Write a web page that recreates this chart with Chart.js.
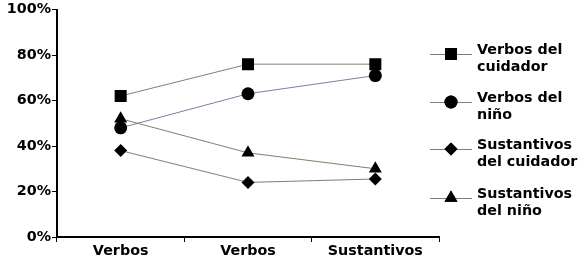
<!DOCTYPE html>
<html>
<head>
<meta charset="utf-8">
<script src="https://cdn.jsdelivr.net/npm/chart.js@4/dist/chart.umd.min.js"></script>
<style>
  html, body { margin: 0; padding: 0; background: #fff; }
  #wrap { width: 580px; height: 260px; }
</style>
</head>
<body>
<div id="wrap"><canvas id="myChart" width="580" height="260"></canvas></div>
<script>
// data
const categories = ['Verbos', 'Verbos', 'Sustantivos'];
const seriesNames = ['Verbos del cuidador', 'Verbos del niño', 'Sustantivos del cuidador', 'Sustantivos del niño'];
const legendLines = [['Verbos del', 'cuidador'], ['Verbos del', 'niño'], ['Sustantivos', 'del cuidador'], ['Sustantivos', 'del niño']];
const verbosCuidador = [62, 76, 76];
const verbosNino = [48, 63, 71];
const sustCuidador = [38, 24, 25.5];
const sustNino = [52, 37, 30];
const yTicks = [0, 20, 40, 60, 80, 100];

const FONT = 'DejaVu Sans';
const FSIZE = 14.3;

function ds(label, data, style, radius, color) {
    return {
        label: label,
        data: data,
        borderColor: color,
        borderWidth: 1,
        backgroundColor: '#000',
        pointStyle: style,
        pointRadius: radius,
        pointHoverRadius: radius,
        pointBackgroundColor: '#000',
        pointBorderColor: '#000',
        pointBorderWidth: 0,
        fill: false,
        tension: 0
    };
}

// legend drawn on the right with two-line labels
const sideLegend = {
    id: 'sideLegend',
    afterDraw(chart) {
        const ctx = chart.ctx;
        const mids = [54, 102, 149, 198];
        ctx.save();
        chart.data.datasets.forEach((d, i) => {
            const y = mids[i];
            ctx.strokeStyle = d.borderColor;
            ctx.lineWidth = 1;
            ctx.beginPath();
            ctx.moveTo(430, y + 0.5);
            ctx.lineTo(472, y + 0.5);
            ctx.stroke();
            ctx.fillStyle = '#000';
            ctx.strokeStyle = '#000';
            Chart.helpers.drawPoint(ctx, { pointStyle: d.pointStyle, radius: d.pointRadius, borderWidth: 0, rotation: 0 }, 451, y);
            ctx.fill();
            ctx.font = 'bold ' + FSIZE + 'px "' + FONT + '"';
            ctx.textBaseline = 'alphabetic';
            ctx.textAlign = 'left';
            const lines = legendLines[i];
            ctx.fillText(lines[0], 477, y);
            ctx.fillText(lines[1], 477, y + 17);
        });
        ctx.restore();
    }
};

var ctx = document.getElementById('myChart').getContext('2d');
const myChart = new Chart(ctx, {
    type: 'line',
    data: {
        labels: categories,
        datasets: [
            ds(seriesNames[0], verbosCuidador, 'rect', 8.5, '#808068'),
            ds(seriesNames[1], verbosNino, 'circle', 6.5, '#7c7ca0'),
            ds(seriesNames[2], sustCuidador, 'rectRot', 6.5, '#7c7c90'),
            ds(seriesNames[3], sustNino, 'triangle', 7.5, '#808068')
        ]
    },
    options: {
        responsive: false,
        animation: false,
        layout: { padding: { left: 0, right: 141, top: 6, bottom: 0 } },
        plugins: {
            legend: { display: false },
            tooltip: { enabled: false }
        },
        scales: {
            x: {
                offset: true,
                grid: {
                    offset: true,
                    drawOnChartArea: false,
                    drawTicks: true,
                    tickLength: 5,
                    color: '#000',
                    lineWidth: 1
                },
                border: { color: '#000', width: 2 },
                ticks: {
                    color: '#000',
                    padding: 1,
                    maxRotation: 0,
                    font: { family: FONT, size: FSIZE, weight: 'bold' }
                },
                afterFit(scale) { scale.height = 23; }
            },
            y: {
                min: 0,
                max: 100,
                afterBuildTicks(scale) { scale.ticks = yTicks.map(v => ({ value: v })); },
                grid: {
                    drawOnChartArea: false,
                    drawTicks: true,
                    tickLength: 5,
                    color: '#000',
                    lineWidth: 1
                },
                border: { color: '#000', width: 2 },
                ticks: {
                    color: '#000',
                    padding: 1,
                    font: { family: FONT, size: FSIZE, weight: 'bold' },
                    callback: (v) => v + '%'
                },
                afterFit(scale) { scale.width = 57; }
            }
        }
    },
    plugins: [sideLegend]
});
</script>
</body>
</html>
